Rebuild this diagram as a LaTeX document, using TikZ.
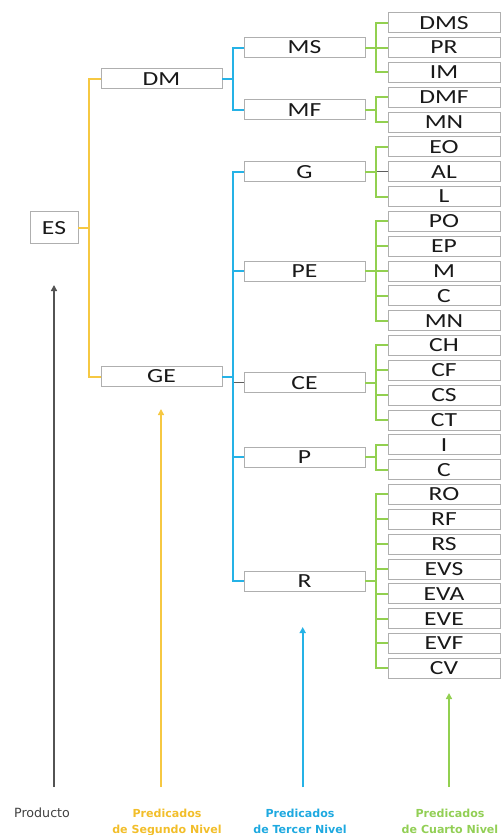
\documentclass[tikz,border=0pt]{standalone}
\usepackage{fontspec}
\setmainfont{Carlito}
\newfontfamily\boxfont[FakeStretch=1.28]{Carlito}
\newfontfamily\lblfont{DejaVu Sans}
\usetikzlibrary{arrows.meta,calc}
\definecolor{cY}{HTML}{F6C842}
\definecolor{cB}{HTML}{25B2E6}
\definecolor{cG}{HTML}{92D050}
\definecolor{cK}{HTML}{404040}
\definecolor{cBd}{HTML}{AFAFAF}
\definecolor{tY}{HTML}{F2BE2A}
\definecolor{tB}{HTML}{1EA9E0}
\definecolor{tG}{HTML}{92CF55}
\newcommand\mygroup[3]{\foreach \cc in {#3} {\draw[#1] (#2.east) -- ++(11,0) |- (\cc.west);}}
\begin{document}
\begin{tikzpicture}[x=0.75pt,y=-0.75pt,
  box/.style={draw=cBd,line width=0.55pt,inner sep=0pt,minimum height=15pt,
    font=\boxfont\fontsize{15}{15}\selectfont,text=black!90},
  lfour/.style={box,minimum width=84pt},
  lthree/.style={box,minimum width=90.75pt},
  ltwo/.style={box,minimum width=90.75pt},
  lroot/.style={box,minimum width=36pt,minimum height=24pt},
  conn/.style={line width=1.5pt},
  cy/.style={conn,draw=cY},
  cb/.style={conn,draw=cB},
  cg/.style={conn,draw=cG},
  ck/.style={line width=1pt,draw=cK!85},
  arr/.style={line width=1.4pt,-{Triangle[length=4.5pt,width=4.5pt]}},
  lbl/.style={align=center,inner sep=0pt,font=\lblfont\bfseries\fontsize{8.3}{12}\selectfont}
]
\useasboundingbox (0,0) rectangle (501,835);

% fourth level
\foreach \t [count=\i from 0] in {DMS,PR,IM,DMF,MN,EO,AL,L,PO,EP,M,C,MN,CH,CF,CS,CT,I,C,RO,RF,RS,EVS,EVA,EVE,EVF,CV}
  \node[lfour] (f\i) at (444,{22.7+24.83*\i}) {\t};

% third level
\node[lthree] (MS) at (304.5,47.5) {MS};
\node[lthree] (MF) at (304.5,109.6) {MF};
\node[lthree] (G)  at (304.5,171.7) {G};
\node[lthree] (PE) at (304.5,271.0) {PE};
\node[lthree] (CE) at (304.5,382.7) {CE};
\node[lthree] (P)  at (304.5,457.2) {P};
\node[lthree] (R)  at (304.5,581.4) {R};

% second level
\node[ltwo] (DM) at (161.5,78.6) {DM};
\node[ltwo] (GE) at (161.5,376.5) {GE};

% root
\node[lroot] (ES) at (54,227.6) {ES};

% connectors
\draw[ck] (G.east) -- ++(11,0) |- (f6.west);
\draw[ck] (GE.east) -- ++(11,0) |- (CE.west);
\mygroup{cy}{ES}{DM,GE}
\mygroup{cb}{DM}{MS,MF}
\mygroup{cb}{GE}{G,PE,P,R}
\mygroup{cg}{MS}{f0,f1,f2}
\mygroup{cg}{MF}{f3,f4}
\mygroup{cg}{G}{f5,f7}
\mygroup{cg}{PE}{f8,f9,f10,f11,f12}
\mygroup{cg}{CE}{f13,f14,f15,f16}
\mygroup{cg}{P}{f17,f18}
\mygroup{cg}{R}{f19,f20,f21,f22,f23,f24,f25,f26}

% level arrows
\coordinate (k0) at (54,787);  \coordinate (k1) at (54,285);
\coordinate (y0) at (161,787); \coordinate (y1) at (161,409);
\coordinate (b0) at (302.7,787); \coordinate (b1) at (302.7,627);
\coordinate (g0) at (449,787); \coordinate (g1) at (449,693);
\draw[arr,draw=cK!90,fill=cK!90] (k0) -- (k1);
\draw[arr,draw=cY,fill=cY] (y0) -- (y1);
\draw[arr,draw=cB,fill=cB] (b0) -- (b1);
\draw[arr,draw=cG,fill=cG] (g0) -- (g1);

% labels
\node[lbl,text=cK,font=\lblfont\fontsize{9.5}{12}\selectfont,anchor=base] (lk) at (42,817) {Producto};
\node[lbl,text=tY,anchor=base] (ly) at (167,833) {Predicados\\de Segundo Nivel};
\node[lbl,text=tB,anchor=base] (lb) at (300,833) {Predicados\\de Tercer Nivel};
\node[lbl,text=tG,anchor=base] (lg) at (450,833) {Predicados\\de Cuarto Nivel};
\end{tikzpicture}
\end{document}
